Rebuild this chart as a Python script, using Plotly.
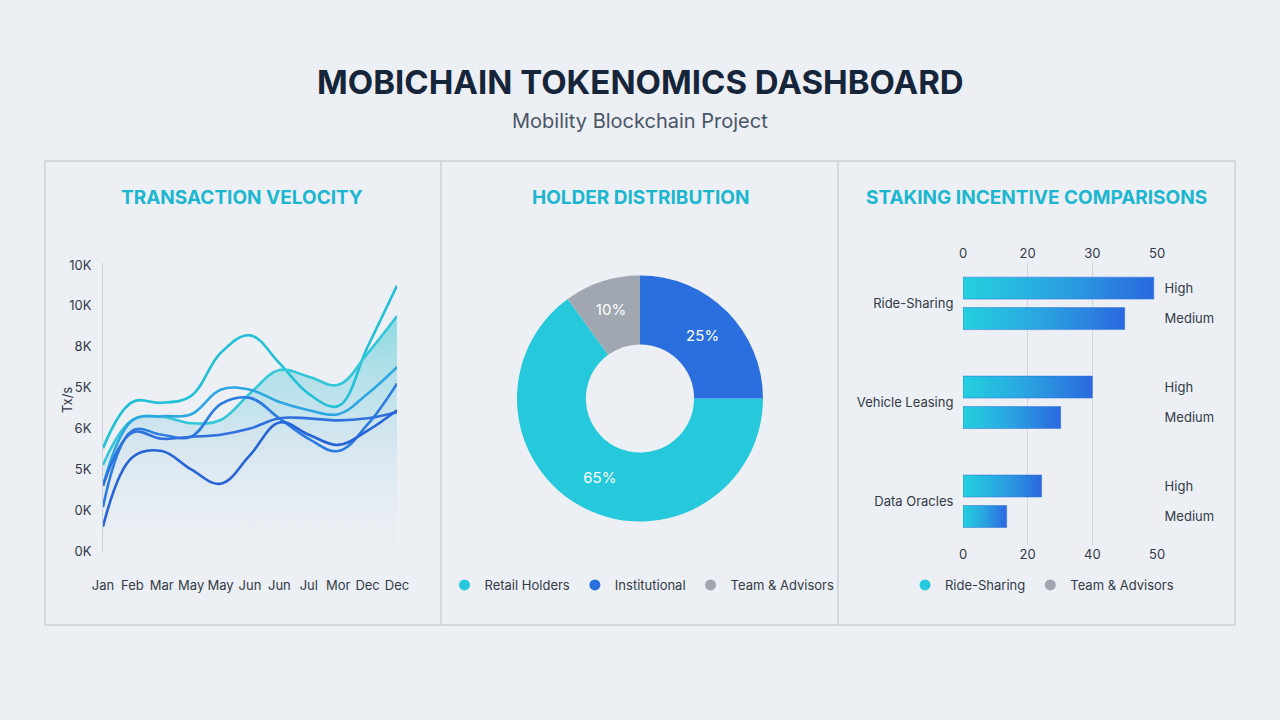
import plotly.graph_objects as go

W, H = 1280, 720
FONT = "Inter"
CYAN = "#26c9dc"
BLUE = "#2b6fdf"
GREY = "#a0a7b1"
TEXT = "#333b47"


def fx(px):
    return px / W


def fy(py):
    return 1 - py / H


# ---- transaction velocity (left panel) ----
months = ["Jan", "Feb", "Mar", "May", "May", "Jun", "Jun", "Jul", "Mor", "Dec", "Dec"]
y_tick_text = ["0K", "0K", "5K", "6K", "5K", "8K", "10K", "10K"]
velocity_a = [2.52, 3.65, 3.63, 3.8, 4.85, 5.28, 4.6, 3.85, 3.55, 5.0, 6.5]
velocity_b = [2.11, 3.21, 3.29, 3.13, 3.21, 3.86, 4.43, 4.27, 4.07, 4.84, 5.75]
velocity_c = [1.6, 3.2, 3.3, 3.35, 3.95, 3.95, 3.65, 3.45, 3.35, 3.85, 4.5]
velocity_d = [1.08, 2.95, 2.85, 2.8, 3.6, 3.75, 3.25, 2.75, 2.45, 3.1, 4.1]
velocity_e = [1.6, 2.9, 2.75, 2.8, 2.85, 3.0, 3.25, 3.25, 3.2, 3.25, 3.4]
velocity_f = [0.6, 2.3, 2.45, 2.0, 1.65, 2.35, 3.15, 2.85, 2.6, 2.95, 3.45]
velocity_colors = ["#22c0d6", "#33c7d8", "#2ea6e2", "#2b7be0", "#2f70dc", "#2563d6"]

# ---- holder distribution (middle panel) ----
holders = ["Retail Holders", "Institutional", "Team & Advisors"]
holder_share = [65, 25, 10]
holder_colors = [CYAN, BLUE, GREY]

# ---- staking incentives (right panel) ----
segments = ["Ride-Sharing", "Vehicle Leasing", "Data Oracles"]
high_apy = [59, 40, 24.3]
medium_apy = [50, 30.2, 13.5]
apy_ticks = [0, 20, 40, 60]
top_tick_text = ["0", "20", "30", "50"]
bottom_tick_text = ["0", "20", "40", "50"]
stake_legend = ["Ride-Sharing", "Team & Advisors"]
stake_legend_colors = [CYAN, GREY]

fig = go.Figure()

xs = list(range(len(months)))
series = [velocity_a, velocity_b, velocity_c, velocity_d, velocity_e, velocity_f]

# gradient area under the second series
fig.add_trace(go.Scatter(
    x=xs, y=velocity_b, mode="lines", line=dict(width=0, shape="spline", smoothing=1.1),
    fill="tozeroy",
    fillgradient=dict(type="vertical", start=0, stop=max(velocity_b),
                      colorscale=[[0, "rgba(228,236,244,0.1)"], [0.45, "rgba(200,224,238,0.6)"],
                                  [1, "rgba(110,212,222,0.75)"]]),
    showlegend=False, hoverinfo="skip", xaxis="x", yaxis="y"))

for vals, col in zip(series, velocity_colors):
    fig.add_trace(go.Scatter(x=xs, y=vals, mode="lines",
                             line=dict(color=col, width=2.6, shape="spline", smoothing=1.1),
                             showlegend=False, xaxis="x", yaxis="y"))

# legend entries for the donut (circle markers)
for name, col in zip(holders, holder_colors):
    fig.add_trace(go.Scatter(x=[None], y=[None], mode="markers", name=name,
                             marker=dict(color=col, size=11), legend="legend",
                             xaxis="x", yaxis="y"))

fig.add_trace(go.Pie(
    labels=holders, values=holder_share, hole=0.44, sort=False,
    direction="counterclockwise", rotation=90,
    marker=dict(colors=holder_colors, line=dict(width=0)),
    textinfo="percent", textposition="inside", insidetextorientation="horizontal",
    textfont=dict(family=FONT, size=15, color="white"),
    domain=dict(x=[fx(517), fx(763)], y=[fy(522), fy(275)]),
    showlegend=False))

# gradient bars, one filled shape per bar
bar_half = 0.111
for k, seg in enumerate(segments):
    for val, off in ((high_apy[k], 0.156), (medium_apy[k], -0.152)):
        yc = -k + off
        fig.add_trace(go.Scatter(
            x=[0, val, val, 0, 0],
            y=[yc - bar_half, yc - bar_half, yc + bar_half, yc + bar_half, yc - bar_half],
            mode="lines", fill="toself", line=dict(width=1, color="rgba(43,111,223,0.5)"),
            fillgradient=dict(type="horizontal",
                              colorscale=[[0, "#24d0df"], [0.5, "#2aa3e0"], [1, "#2b68df"]]),
            showlegend=False, hoverinfo="skip", xaxis="x2", yaxis="y2"))

fig.add_trace(go.Scatter(x=[None], y=[None], showlegend=False, xaxis="x3", yaxis="y3"))

for name, col in zip(stake_legend, stake_legend_colors):
    fig.add_trace(go.Scatter(x=[None], y=[None], mode="markers", name=name,
                             marker=dict(color=col, size=11), legend="legend2",
                             xaxis="x2", yaxis="y2"))

tick_font = dict(family=FONT, size=13, color=TEXT)
bar_centers = []
bar_labels = []
for k in range(len(segments)):
    bar_centers += [-k + 0.156, -k - 0.152]
    bar_labels += ["High", "Medium"]

legend_font = dict(family=FONT, size=13, color=TEXT)

fig.update_layout(
    width=W, height=H,
    margin=dict(l=0, r=0, t=0, b=0, autoexpand=False),
    paper_bgcolor="#eceff3", plot_bgcolor="rgba(0,0,0,0)",
    font=dict(family=FONT, color=TEXT),
    xaxis=dict(domain=[fx(103), fx(397)], range=[0, 10],
               tickvals=xs, ticktext=months, showgrid=False, zeroline=False,
               ticks="outside", ticklen=21, tickcolor="rgba(0,0,0,0)",
               tickfont=tick_font, fixedrange=True),
    yaxis=dict(domain=[fy(552), fy(263)], range=[-0.02, 7.05],
               tickvals=list(range(len(y_tick_text))), ticktext=y_tick_text,
               showgrid=False, zeroline=False, showline=True, linecolor="#c9ced6",
               ticks="outside", ticklen=8, tickcolor="rgba(0,0,0,0)", tickfont=tick_font),
    xaxis2=dict(domain=[fx(963), fx(1158)], range=[0, 60.3], anchor="y2",
                tickvals=apy_ticks, ticktext=bottom_tick_text, showgrid=True,
                gridcolor="#d2d7de", gridwidth=1, zeroline=False, tickfont=tick_font),
    xaxis3=dict(overlaying="x2", side="top", anchor="y2", range=[0, 60.3],
                tickvals=apy_ticks, ticktext=top_tick_text, showgrid=False,
                zeroline=False, tickfont=tick_font),
    yaxis2=dict(domain=[fy(545), fy(262)], range=[-2.44, 0.42], anchor="x2",
                tickvals=[0, -1, -2], ticktext=segments, showgrid=False, zeroline=False,
                ticks="outside", ticklen=6, tickcolor="rgba(0,0,0,0)", tickfont=tick_font),
    yaxis3=dict(overlaying="y2", side="right", anchor="x2", range=[-2.44, 0.42],
                tickvals=bar_centers, ticktext=bar_labels, showgrid=False, zeroline=False,
                ticks="outside", ticklen=3, tickcolor="rgba(0,0,0,0)", tickfont=tick_font),
    legend=dict(orientation="h", x=fx(642), xanchor="center", y=fy(585), yanchor="middle",
                font=legend_font, bgcolor="rgba(0,0,0,0)"),
    legend2=dict(orientation="h", x=fx(1042), xanchor="center", y=fy(585), yanchor="middle",
                 font=legend_font, bgcolor="rgba(0,0,0,0)"),
    shapes=[
        dict(type="rect", xref="paper", yref="paper", x0=fx(45), x1=fx(1235),
             y0=fy(625), y1=fy(161), line=dict(color="#bcc3cc", width=1)),
        dict(type="line", xref="paper", yref="paper", x0=fx(441), x1=fx(441),
             y0=fy(625), y1=fy(161), line=dict(color="#bcc3cc", width=1)),
        dict(type="line", xref="paper", yref="paper", x0=fx(838), x1=fx(838),
             y0=fy(625), y1=fy(161), line=dict(color="#bcc3cc", width=1)),
    ],
)

title_specs = [
    ("<b>MOBICHAIN TOKENOMICS DASHBOARD</b>", 640, 82, 33, "#17253a"),
    ("Mobility Blockchain Project", 640, 121, 20, "#4a5566"),
    ("<b>TRANSACTION VELOCITY</b>", 242, 197, 19, "#1db6d0"),
    ("<b>HOLDER DISTRIBUTION</b>", 640, 197, 19, "#1db6d0"),
    ("<b>STAKING INCENTIVE COMPARISONS</b>", 1036, 197, 19, "#1db6d0"),
]
for text, px, py, size, col in title_specs:
    fig.add_annotation(text=text, x=fx(px), y=fy(py), xref="paper", yref="paper",
                       xanchor="center", yanchor="middle", showarrow=False,
                       font=dict(family=FONT, size=size, color=col))

fig.add_annotation(text="Tx/s", x=fx(67), y=fy(400), xref="paper", yref="paper",
                   xanchor="center", yanchor="middle", textangle=-90, showarrow=False,
                   font=dict(family=FONT, size=13, color=TEXT))

fig.write_html("out.html", config={"displayModeBar": False},
               post_script="document.body.style.margin='0';")
